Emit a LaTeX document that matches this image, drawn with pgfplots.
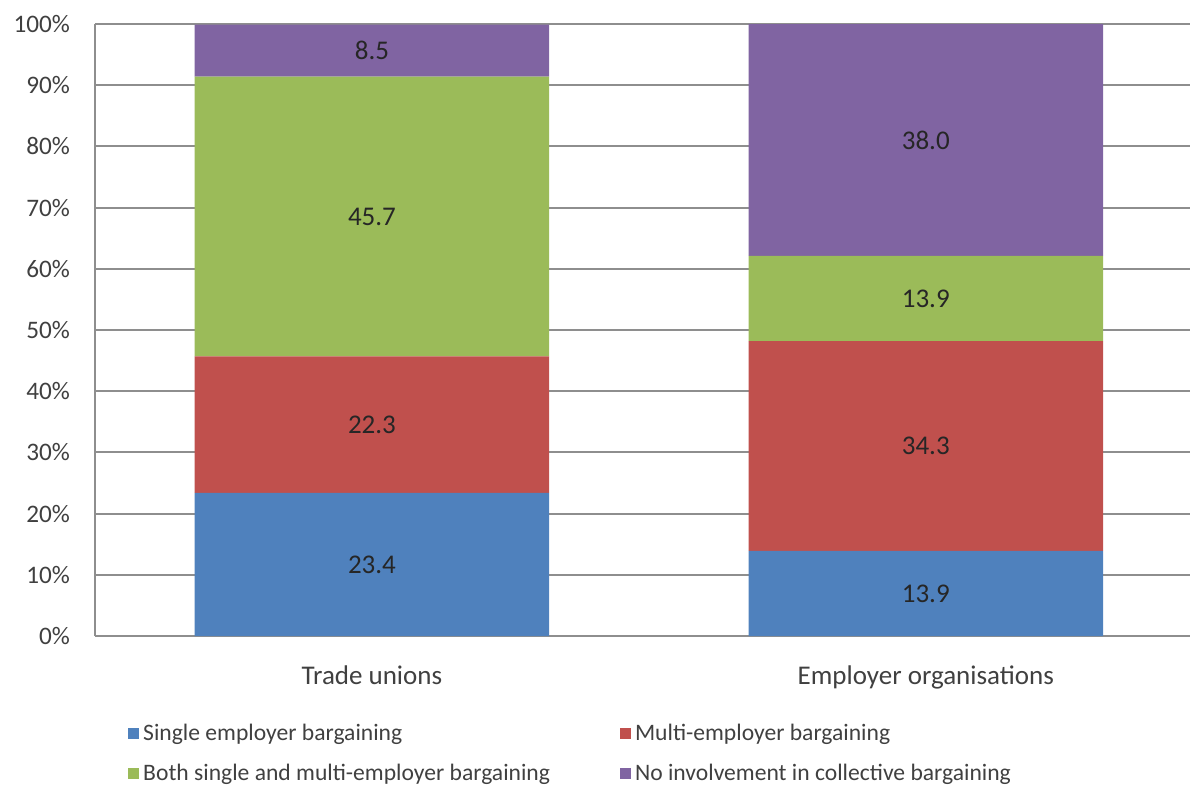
\documentclass[border=0pt]{standalone}
\usepackage{pgfplots}
\pgfplotsset{compat=1.18}
\usepackage{fontspec}
\setmainfont{Carlito}
\definecolor{cblue}{HTML}{4F81BD}
\definecolor{cred}{HTML}{C0504D}
\definecolor{cgreen}{HTML}{9BBB59}
\definecolor{cpurple}{HTML}{8064A2}
\definecolor{gridgray}{HTML}{8E8E8E}
\definecolor{txt}{HTML}{404040}
\pgfplotsset{sqleg/.style={legend image code/.code={\fill[##1] (0pt,-2.75pt) rectangle (5.5pt,2.75pt);}}}
\pgfplotstableread{
x y lab
0 11.7 23.4
0 34.55 22.3
0 68.55 45.7
0 95.75 8.5
1 6.95 13.9
1 31.05 34.3
1 55.15 13.9
1 81.05 38.0
}\labtable
\begin{document}
\begin{tikzpicture}
\begin{axis}[
  name=ax,
  scale only axis,
  width=547.5pt, height=306pt,
  xmin=-0.5, xmax=1.477,
  ymin=0, ymax=100,
  ytick={0,10,...,100},
  yticklabel={\pgfmathprintnumber{\tick}\%},
  /pgf/number format/assume math mode=true,
  xtick={0,1},
  xticklabels={Trade unions, Employer organisations},
  ymajorgrids,
  grid style={gridgray, line width=1pt},
  axis x line*=bottom, axis y line*=left,
  axis line style={gridgray, line width=1pt, -},
  major tick length=0pt,
  tick label style={text=txt},
  yticklabel style={xshift=-9pt, font=\fontsize{12.6}{14}\selectfont},
  xticklabel style={yshift=-11.5pt, font=\fontsize{13.5}{15}\selectfont},
  ybar stacked, bar width=0.64,
  legend columns=2,
  legend cell align=left,
  legend style={draw=none, fill=none, inner sep=0pt,
    at={(0.03,-0.136)}, anchor=north west,
    font=\fontsize{11.8}{14}\selectfont, text=txt,
    row sep=6.5pt,
    /tikz/every even column/.append style={column sep=33pt}},
]
\addplot[fill=cblue, draw=none, sqleg] coordinates {(0,23.4) (1,13.9)};
\addlegendentry{Single employer bargaining}
\addplot[fill=cred, draw=none, sqleg] coordinates {(0,22.3) (1,34.3)};
\addlegendentry{Multi-employer bargaining}
\addplot[fill=cgreen, draw=none, sqleg] coordinates {(0,45.7) (1,13.9)};
\addlegendentry{Both single and multi-employer bargaining}
\addplot[fill=cpurple, draw=none, sqleg] coordinates {(0,8.5) (1,38.0)};
\addlegendentry{No involvement in collective bargaining}
\end{axis}
\begin{axis}[
  scale only axis,
  width=547.5pt, height=306pt,
  xmin=-0.5, xmax=1.477,
  ymin=0, ymax=100,
  hide axis,
]
\addplot[draw=none, mark=none, nodes near coords, point meta=explicit symbolic,
  every node near coord/.append style={anchor=center, font=\fontsize{13.5}{15}\selectfont, text=black!85}]
  table[x=x, y=y, meta=lab] {\labtable};
\end{axis}
\pgfresetboundingbox
\path[use as bounding box] (-47.5pt,-76.5pt) rectangle (548pt,318pt);
\end{tikzpicture}
\end{document}
